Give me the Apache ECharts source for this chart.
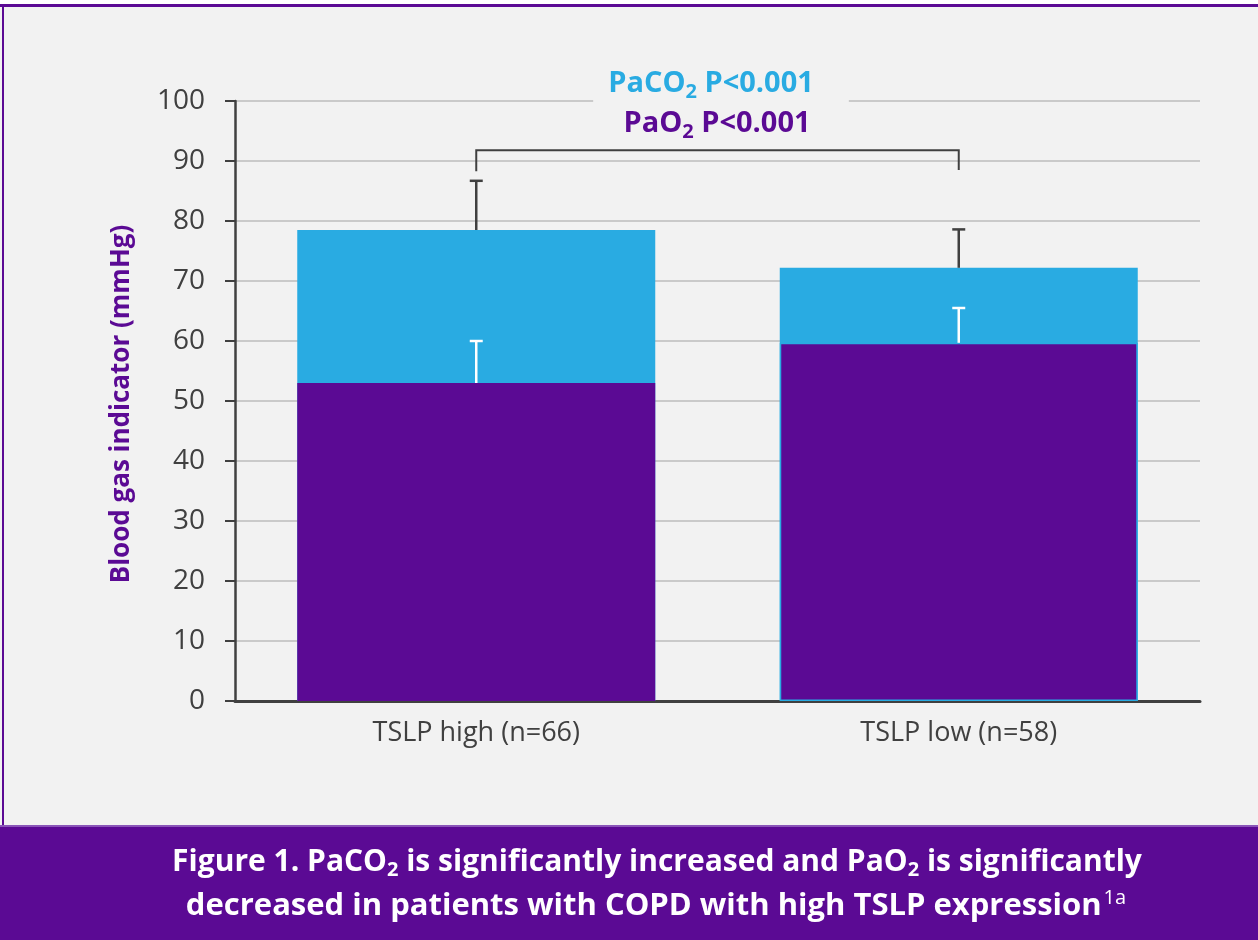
<!DOCTYPE html>
<html>
<head>
<meta charset="utf-8">
<script src="https://cdn.jsdelivr.net/npm/echarts@6/dist/echarts.min.js"></script>
<style>
html,body{margin:0;padding:0;background:#ffffff;}
#chart{width:1258px;height:940px;}
</style>
</head>
<body>
<div id="chart"></div>
<script>
// ---- data ----
const categories = ['TSLP high (n=66)', 'TSLP low (n=58)'];
const paco2 = [78.5, 72.2];
const paco2Upper = [86.7, 78.6];
const pao2 = [53.0, 59.7];
const pao2Upper = [60.0, 65.5];
const yMin = 0, yMax = 100, yStep = 10;
const bracketTop = 91.8;
const bracketEnds = [88.3, 88.5];

const BLUE = '#29abe2';
const PURPLE = '#5b0a94';
const AXIS = '#404040';
const FONT = 'Open Sans';

const chart = echarts.init(document.getElementById('chart'));

function errorBar(color) {
  return function (params, api) {
    const x = api.value(0);
    const p0 = api.coord([x, api.value(1)]);
    const p1 = api.coord([x, api.value(2)]);
    const style = { stroke: color, lineWidth: 2.5 };
    return {
      type: 'group',
      children: [
        { type: 'line', shape: { x1: p0[0], y1: p0[1], x2: p1[0], y2: p1[1] }, style },
        { type: 'line', shape: { x1: p1[0] - 6.5, y1: p1[1], x2: p1[0] + 6.5, y2: p1[1] }, style }
      ]
    };
  };
}

const option = {
  backgroundColor: '#ffffff',
  animation: false,
  textStyle: { fontFamily: FONT },
  grid: { left: 235, right: 58, top: 101, bottom: 239 },
  xAxis: {
    type: 'category',
    data: categories,
    axisLine: { lineStyle: { color: AXIS, width: 3 } },
    axisTick: { show: false },
    axisLabel: { color: AXIS, fontSize: 27, margin: 19, fontFamily: FONT }
  },
  yAxis: {
    type: 'value',
    min: yMin, max: yMax, interval: yStep,
    axisLine: { show: true, lineStyle: { color: AXIS, width: 2.5 } },
    axisTick: { show: true, length: 10, lineStyle: { color: AXIS, width: 2 } },
    axisLabel: { color: AXIS, fontSize: 28, margin: 30, fontFamily: FONT },
    splitLine: { lineStyle: { color: '#bcbcbc', width: 1.5 } }
  },
  series: [
    {
      name: 'PaCO2', type: 'bar', data: paco2, barWidth: 358, barGap: '-100%',
      itemStyle: { color: BLUE }, z: 2
    },
    {
      name: 'PaO2', type: 'bar',
      data: pao2.map((v, i) => i === 1 ? { value: v, itemStyle: { borderColor: BLUE, borderWidth: 1.5 } } : v),
      barWidth: 358, barGap: '-100%',
      itemStyle: { color: PURPLE }, z: 3
    },
    {
      type: 'custom', name: 'PaCO2 err', z: 4,
      data: paco2.map((v, i) => [i, v, paco2Upper[i]]),
      renderItem: errorBar(AXIS)
    },
    {
      type: 'custom', name: 'PaO2 err', z: 4,
      data: pao2.map((v, i) => [i, v, pao2Upper[i]]),
      renderItem: errorBar('#ffffff')
    },
    {
      type: 'custom', name: 'bracket', z: 5,
      data: [[0, 1, bracketTop, bracketEnds[0], bracketEnds[1]]],
      renderItem: function (params, api) {
        const a = api.coord([api.value(0), api.value(3)]);
        const b = api.coord([api.value(0), api.value(2)]);
        const c = api.coord([api.value(1), api.value(2)]);
        const d = api.coord([api.value(1), api.value(4)]);
        return {
          type: 'polyline',
          shape: { points: [a, b, c, d] },
          style: { stroke: AXIS, lineWidth: 2, fill: null }
        };
      }
    }
  ],
  graphic: [
    { type: 'rect', silent: true, z: -10, shape: { x: 0, y: 5, width: 1258, height: 822 }, style: { fill: '#f2f2f2' } },
    { type: 'rect', silent: true, z: 10, shape: { x: 0, y: 4, width: 1258, height: 3 }, style: { fill: PURPLE } },
    { type: 'rect', silent: true, z: 10, shape: { x: 2, y: 4, width: 2, height: 823 }, style: { fill: PURPLE } },
    { type: 'rect', silent: true, z: 10, shape: { x: 0, y: 826, width: 1258, height: 114 }, style: { fill: PURPLE } },
    { type: 'rect', silent: true, z: 10, shape: { x: 0, y: 825, width: 1258, height: 2 }, style: { fill: '#8a55b8' } },
    {
      type: 'text', z: 20, x: 122, y: 404, rotation: Math.PI / 2,
      style: {
        text: 'Blood gas indicator (mmHg)', fill: PURPLE, fontFamily: FONT,
        fontWeight: 'bold', fontSize: 26, align: 'center', verticalAlign: 'middle'
      }
    },
    {
      type: 'text', z: 20, x: 721, y: 84,
      style: {
        text: '{a|PaCO}{s|2}{a| P<0.001}',
        align: 'center', verticalAlign: 'middle',
        backgroundColor: '#f2f2f2', padding: [2, 35, 2, 15],
        rich: {
          a: { fill: BLUE, fontFamily: FONT, fontWeight: 'bold', fontSize: 29, color: BLUE },
          s: { fill: BLUE, fontFamily: FONT, fontWeight: 'bold', fontSize: 20, color: BLUE, padding: [16, 0, 0, 0] }
        }
      }
    },
    {
      type: 'text', z: 20, x: 717, y: 124,
      style: {
        text: '{a|PaO}{s|2}{a| P<0.001}',
        align: 'center', verticalAlign: 'middle',
        rich: {
          a: { fill: PURPLE, fontFamily: FONT, fontWeight: 'bold', fontSize: 29, color: PURPLE },
          s: { fill: PURPLE, fontFamily: FONT, fontWeight: 'bold', fontSize: 20, color: PURPLE, padding: [16, 0, 0, 0] }
        }
      }
    },
    {
      type: 'text', z: 20, x: 657, y: 862,
      style: {
        text: '{a|Figure 1. PaCO}{s|2}{a| is significantly increased and PaO}{s|2}{a| is significantly}',
        align: 'center', verticalAlign: 'middle',
        rich: {
          a: { fill: '#ffffff', fontFamily: FONT, fontWeight: 'bold', fontSize: 30, color: '#ffffff' },
          s: { fill: '#ffffff', fontFamily: FONT, fontWeight: 'bold', fontSize: 20, color: '#ffffff', padding: [17, 0, 0, 0] }
        }
      }
    },
    {
      type: 'text', z: 20, x: 656, y: 906,
      style: {
        text: '{a|decreased in patients with COPD with high TSLP expression}{p|1a}',
        align: 'center', verticalAlign: 'middle',
        rich: {
          a: { fill: '#ffffff', fontFamily: FONT, fontWeight: 'bold', fontSize: 31, color: '#ffffff' },
          p: { fill: '#ffffff', fontFamily: FONT, fontSize: 20, color: '#ffffff', padding: [0, 0, 16, 2] }
        }
      }
    }
  ]
};
chart.setOption(option);
</script>
</body>
</html>
